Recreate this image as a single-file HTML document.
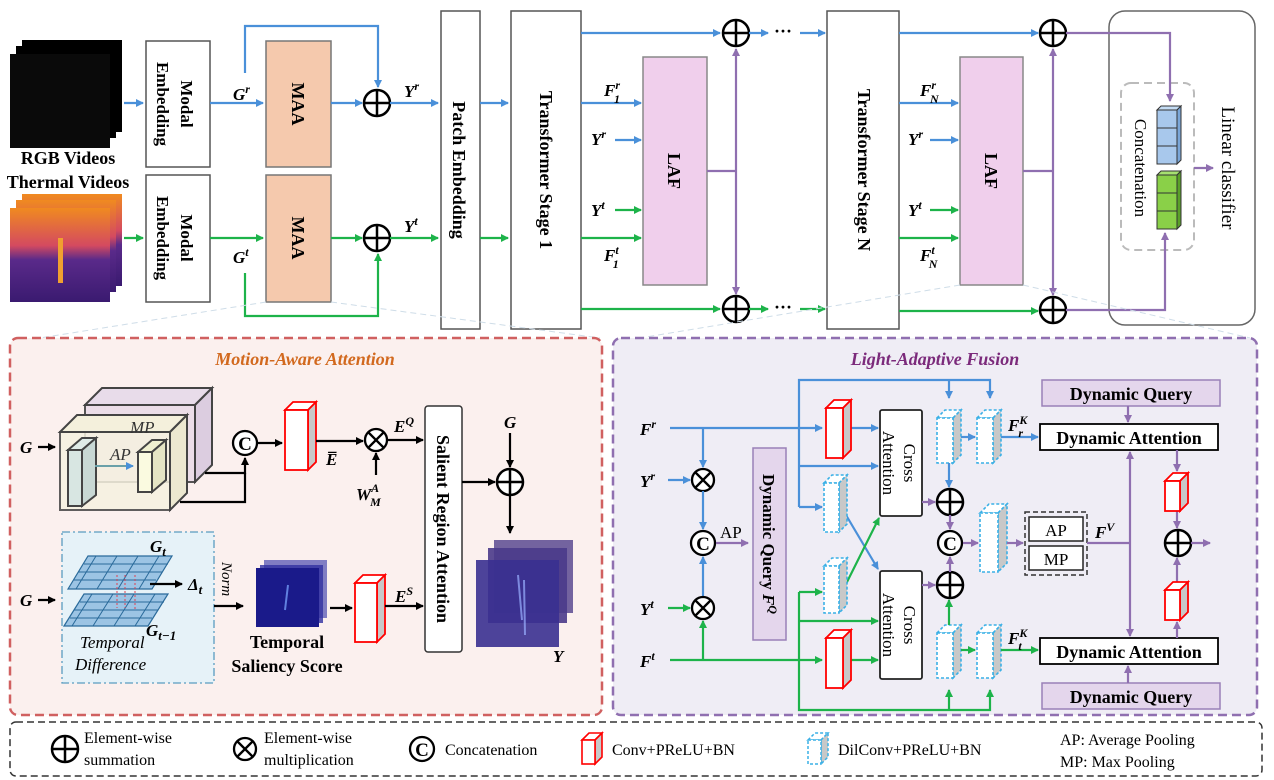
<!DOCTYPE html>
<html><head><meta charset="utf-8">
<style>
html,body{margin:0;padding:0;background:#fff}
svg{display:block;font-family:"Liberation Serif",serif}
.b{fill:none;stroke:#4a90d9;stroke-width:2.2}
.g{fill:none;stroke:#1db34a;stroke-width:2.2}
.p{fill:none;stroke:#8f6fb0;stroke-width:2.2}
.k{fill:none;stroke:#000;stroke-width:2.2}
.lab{font-style:italic;font-weight:bold;font-size:17px}
.bx{fill:#fff;stroke:#555;stroke-width:1.5}
</style></head><body>
<svg width="1274" height="780" viewBox="0 0 1274 780" xmlns="http://www.w3.org/2000/svg">
<defs>
<marker id="ab" markerWidth="8" markerHeight="8" refX="7" refY="4" orient="auto" markerUnits="userSpaceOnUse"><path d="M0,0 L8,4 L0,8z" fill="#4a90d9"/></marker>
<marker id="ag" markerWidth="8" markerHeight="8" refX="7" refY="4" orient="auto" markerUnits="userSpaceOnUse"><path d="M0,0 L8,4 L0,8z" fill="#1db34a"/></marker>
<marker id="ap" markerWidth="8" markerHeight="8" refX="7" refY="4" orient="auto" markerUnits="userSpaceOnUse"><path d="M0,0 L8,4 L0,8z" fill="#8f6fb0"/></marker>
<marker id="ak" markerWidth="8" markerHeight="8" refX="7" refY="4" orient="auto" markerUnits="userSpaceOnUse"><path d="M0,0 L8,4 L0,8z" fill="#000"/></marker>
<linearGradient id="th" x1="0" y1="0" x2="0" y2="1"><stop offset="0" stop-color="#f08a20"/><stop offset="0.4" stop-color="#d44a60"/><stop offset="0.55" stop-color="#5a2a8a"/><stop offset="1" stop-color="#3a1a70"/></linearGradient>
<g id="plus"><circle r="13" fill="#fff" stroke="#000" stroke-width="2.5"/><path d="M-13,0H13M0,-13V13" stroke="#000" stroke-width="2.5"/></g>
<g id="mul"><circle r="11" fill="#fff" stroke="#000" stroke-width="2.3"/><path d="M-7.5,-7.5L7.5,7.5M7.5,-7.5L-7.5,7.5" stroke="#000" stroke-width="2.3"/></g>
<g id="cat"><circle r="12" fill="#fff" stroke="#000" stroke-width="2.3"/><text y="7" text-anchor="middle" font-size="19" font-weight="bold">C</text></g>
</defs>

<g>
<rect x="22" y="40" width="100" height="92" fill="#000"/><rect x="16" y="46" width="100" height="92" fill="#000"/><rect x="10" y="54" width="100" height="94" fill="#0a0a0a"/>
<rect x="22" y="194" width="100" height="92" fill="url(#th)"/><rect x="16" y="200" width="100" height="92" fill="url(#th)"/><rect x="10" y="208" width="100" height="94" fill="url(#th)"/>
<rect x="58" y="238" width="5" height="45" fill="#f0a030"/>
<text x="68" y="164" text-anchor="middle" font-size="18" font-weight="bold">RGB Videos</text>
<text x="68" y="188" text-anchor="middle" font-size="18" font-weight="bold">Thermal Videos</text>
<path class="b" d="M124,103H143" marker-end="url(#ab)"/>
<path class="g" d="M124,238H143" marker-end="url(#ag)"/>
<rect class="bx" x="146" y="41" width="64" height="126"/>
<rect class="bx" x="146" y="175" width="64" height="127"/>
<text transform="translate(178,104) rotate(90)" text-anchor="middle" font-size="17" font-weight="bold"><tspan x="0" dy="-3">Modal</tspan><tspan x="0" dy="24">Embedding</tspan></text>
<text transform="translate(178,238) rotate(90)" text-anchor="middle" font-size="17" font-weight="bold"><tspan x="0" dy="-3">Modal</tspan><tspan x="0" dy="24">Embedding</tspan></text>
<text class="lab" x="233" y="100">G<tspan dy="-7" font-size="12">r</tspan></text>
<text class="lab" x="233" y="263">G<tspan dy="-7" font-size="12">t</tspan></text>
<path class="b" d="M210,103H263" marker-end="url(#ab)"/>
<path class="g" d="M210,238H263" marker-end="url(#ag)"/>
<path class="b" d="M245,73V26H378V87" marker-end="url(#ab)"/>
<path class="g" d="M245,273V316H378V254" marker-end="url(#ag)"/>
<rect x="266" y="41" width="65" height="126" fill="#f5c9ad" stroke="#777" stroke-width="1.5"/>
<rect x="266" y="175" width="65" height="127" fill="#f5c9ad" stroke="#777" stroke-width="1.5"/>
<text transform="translate(292,104) rotate(90)" text-anchor="middle" font-size="18" font-weight="bold">MAA</text>
<text transform="translate(292,238) rotate(90)" text-anchor="middle" font-size="18" font-weight="bold">MAA</text>
<path class="b" d="M331,103H362" marker-end="url(#ab)"/>
<path class="g" d="M331,238H362" marker-end="url(#ag)"/>
<use href="#plus" x="377" y="103"/><use href="#plus" x="377" y="238"/>
<text class="lab" x="404" y="97">Y<tspan dy="-7" font-size="12">r</tspan></text>
<text class="lab" x="404" y="232">Y<tspan dy="-7" font-size="12">t</tspan></text>
<path class="b" d="M390,103H438" marker-end="url(#ab)"/>
<path class="g" d="M390,238H438" marker-end="url(#ag)"/>
<rect class="bx" x="441" y="11" width="39" height="318"/>
<text transform="translate(453,170) rotate(90)" text-anchor="middle" font-size="18" font-weight="bold">Patch Embedding</text>
<path class="b" d="M480,103H508" marker-end="url(#ab)"/>
<path class="g" d="M480,238H508" marker-end="url(#ag)"/>
<rect class="bx" x="511" y="11" width="70" height="318"/>
<text transform="translate(540,170) rotate(90)" text-anchor="middle" font-size="18" font-weight="bold">Transformer Stage 1</text>
<path class="b" d="M581,33H720" marker-end="url(#ab)"/>
<path class="g" d="M581,309H720" marker-end="url(#ag)"/>
<path class="b" d="M581,103H641" marker-end="url(#ab)"/>
<path class="b" d="M615,140H641" marker-end="url(#ab)"/>
<path class="g" d="M615,210H641" marker-end="url(#ag)"/>
<path class="g" d="M581,238H641" marker-end="url(#ag)"/>
<text class="lab" x="604" y="96">F<tspan dy="-7" font-size="12">r</tspan><tspan dx="-6" dy="14" font-size="12">1</tspan></text>
<text class="lab" x="591" y="145">Y<tspan dy="-7" font-size="12">r</tspan></text>
<text class="lab" x="591" y="216">Y<tspan dy="-7" font-size="12">t</tspan></text>
<text class="lab" x="604" y="261">F<tspan dy="-7" font-size="12">t</tspan><tspan dx="-6" dy="14" font-size="12">1</tspan></text>
<rect x="643" y="57" width="64" height="228" fill="#f0cfec" stroke="#888" stroke-width="1.5"/>
<text transform="translate(668,171) rotate(90)" text-anchor="middle" font-size="18" font-weight="bold">LAF</text>
<path class="p" d="M707,171H736"/>
<path class="p" d="M736,171V49" marker-end="url(#ap)"/>
<path class="p" d="M736,171V294" marker-end="url(#ap)"/>
<use href="#plus" x="736" y="33"/><use href="#plus" x="736" y="309"/>
<path class="b" d="M749,33H768" marker-end="url(#ab)"/>
<path class="g" d="M749,309H768" marker-end="url(#ag)"/>
<text x="783" y="37" font-size="18" font-weight="bold" text-anchor="middle">···</text>
<text x="783" y="313" font-size="18" font-weight="bold" text-anchor="middle">···</text>
<path class="b" d="M800,33H825" marker-end="url(#ab)"/>
<path class="g" d="M800,309H825" marker-end="url(#ag)"/>
<rect class="bx" x="827" y="11" width="72" height="318"/>
<text transform="translate(858,170) rotate(90)" text-anchor="middle" font-size="18" font-weight="bold">Transformer Stage N</text>
<path class="b" d="M899,33H1038" marker-end="url(#ab)"/>
<path class="g" d="M899,311H1038" marker-end="url(#ag)"/>
<path class="b" d="M899,103H958" marker-end="url(#ab)"/>
<path class="b" d="M930,140H958" marker-end="url(#ab)"/>
<path class="g" d="M930,210H958" marker-end="url(#ag)"/>
<path class="g" d="M899,238H958" marker-end="url(#ag)"/>
<text class="lab" x="920" y="96">F<tspan dy="-7" font-size="12">r</tspan><tspan dx="-6" dy="14" font-size="12">N</tspan></text>
<text class="lab" x="908" y="145">Y<tspan dy="-7" font-size="12">r</tspan></text>
<text class="lab" x="908" y="216">Y<tspan dy="-7" font-size="12">t</tspan></text>
<text class="lab" x="920" y="261">F<tspan dy="-7" font-size="12">t</tspan><tspan dx="-6" dy="14" font-size="12">N</tspan></text>
<rect x="960" y="57" width="63" height="228" fill="#f0cfec" stroke="#888" stroke-width="1.5"/>
<text transform="translate(985,171) rotate(90)" text-anchor="middle" font-size="18" font-weight="bold">LAF</text>
<path class="p" d="M1023,171H1053"/>
<path class="p" d="M1053,171V49" marker-end="url(#ap)"/>
<path class="p" d="M1053,171V295" marker-end="url(#ap)"/>
<rect x="1109" y="11" width="146" height="314" rx="16" fill="#fff" stroke="#666" stroke-width="1.5"/>
<use href="#plus" x="1053" y="33"/><use href="#plus" x="1053" y="310"/>
<rect x="1121" y="83" width="73" height="167" rx="10" fill="none" stroke="#bbb" stroke-width="2" stroke-dasharray="8,5"/>
<path class="p" d="M1066,33H1170V101" marker-end="url(#ap)"/>
<path class="p" d="M1066,310H1165V233" marker-end="url(#ap)"/>
<g stroke="#333" stroke-width="1">
<rect x="1157" y="110" width="20" height="18" fill="#a8c8ec"/><rect x="1157" y="128" width="20" height="18" fill="#a8c8ec"/><rect x="1157" y="146" width="20" height="18" fill="#a8c8ec"/>
<polygon points="1157,110 1161,106 1181,106 1177,110" fill="#c4dcf4"/><polygon points="1177,110 1181,106 1181,160 1177,164" fill="#7aa6d8"/>
<rect x="1157" y="175" width="20" height="18" fill="#8ad048"/><rect x="1157" y="193" width="20" height="18" fill="#8ad048"/><rect x="1157" y="211" width="20" height="18" fill="#8ad048"/>
<polygon points="1157,175 1161,171 1181,171 1177,175" fill="#a6e070"/><polygon points="1177,175 1181,171 1181,225 1177,229" fill="#5aa028"/>
</g>
<text transform="translate(1135,168) rotate(90)" text-anchor="middle" font-size="17">Concatenation</text>
<path class="p" d="M1194,168H1213" marker-end="url(#ap)"/>
<text transform="translate(1222,168) rotate(90)" text-anchor="middle" font-size="19">Linear classifier</text>
<path d="M266,302L40,338M331,302L600,338" stroke="#cfdde8" stroke-width="1" stroke-dasharray="6,4" fill="none"/>
<path d="M960,285L640,338M1023,285L1250,338" stroke="#cfdde8" stroke-width="1" stroke-dasharray="6,4" fill="none"/>
</g>

<rect x="10" y="338" width="592" height="377" rx="8" fill="#fbf0ee" stroke="#d06060" stroke-width="2.5" stroke-dasharray="9,5"/>
<text x="305" y="365" text-anchor="middle" font-size="18" font-style="italic" font-weight="bold" fill="#d2691e">Motion-Aware Attention</text>
<text class="lab" x="20" y="453">G</text><path class="k" d="M38,447H55" marker-end="url(#ak)"/>
<g stroke="#444" stroke-width="2">
<polygon points="85,405 102,388 212,388 195,405" fill="#e8dcea"/>
<rect x="85" y="405" width="110" height="77" fill="#eadce8" opacity="0.9"/>
<polygon points="195,405 212,388 212,465 195,482" fill="#dccde0"/>
<polygon points="60,432 77,415 187,415 170,432" fill="#f4f0dc"/>
<rect x="60" y="432" width="110" height="78" fill="#f6f2e0" opacity="0.85"/>
<polygon points="170,432 187,415 187,493 170,510" fill="#ece8d0"/>
<rect x="68" y="450" width="14" height="56" fill="#d8e6e2"/><polygon points="68,450 82,438 96,438 82,450" fill="#e0ece8"/><polygon points="82,450 96,438 96,495 82,506" fill="#c8d8d4"/>
<rect x="138" y="452" width="14" height="40" fill="#fafae0"/><polygon points="138,452 152,440 166,440 152,452" fill="#f0f0d0"/><polygon points="152,452 166,440 166,480 152,492" fill="#e4e4c4"/>
</g>
<text x="130" y="433" font-size="17" font-style="italic" fill="#333">MP</text>
<text x="110" y="460" font-size="17" font-style="italic" fill="#333">AP</text>
<path d="M95,466H133" stroke="#6aa0a8" stroke-width="2" marker-end="url(#ab)"/>
<path class="k" d="M205,473H245V458" marker-end="url(#ak)"/>
<path class="k" d="M180,502H245V473"/>
<use href="#cat" x="245" y="443"/>
<path class="k" d="M258,443H282" marker-end="url(#ak)"/>
<g><polygon points="285,410 293,402 316,402 308,410" fill="#fff" stroke="red" stroke-width="1.8"/><polygon points="308,410 316,402 316,462 308,470" fill="#c8c8c8" stroke="red" stroke-width="1.8"/><rect x="285" y="410" width="23" height="60" fill="#fff" stroke="red" stroke-width="1.8"/></g>
<path class="k" d="M316,441H363" marker-end="url(#ak)"/>
<text class="lab" x="326" y="465" font-style="italic" font-weight="normal">E̅</text>
<use href="#mul" x="376" y="440"/>
<path class="k" d="M376,475V453" marker-end="url(#ak)"/>
<text class="lab" x="356" y="500">W<tspan dy="-8" font-size="12">A</tspan><tspan dx="-9" dy="14" font-size="12">M</tspan></text>
<text class="lab" x="394" y="432">E<tspan dy="-7" font-size="12">Q</tspan></text>
<path class="k" d="M388,440H423" marker-end="url(#ak)"/>
<rect x="425" y="406" width="37" height="246" rx="3" fill="#fff" stroke="#333" stroke-width="1.5"/>
<text transform="translate(437,529) rotate(90)" text-anchor="middle" font-size="18" font-weight="bold">Salient Region Attention</text>
<text class="lab" x="504" y="428">G</text>
<path class="k" d="M510,433V467" marker-end="url(#ak)"/>
<path class="k" d="M462,482H495" marker-end="url(#ak)"/>
<use href="#plus" x="510" y="482"/>
<path class="k" d="M510,495V533" marker-end="url(#ak)"/>
<rect x="494" y="540" width="79" height="73" fill="#5a4a90" opacity="0.85"/>
<rect x="488" y="548" width="79" height="75" fill="#4a3a8a" opacity="0.9"/>
<rect x="476" y="560" width="83" height="87" fill="#3a3090" opacity="0.9"/>
<path d="M518,575 L522,620 M524,580 L525,635" stroke="#9ab0ff" stroke-width="2" opacity="0.7"/>
<text class="lab" x="553" y="662">Y</text>
<rect x="62" y="532" width="152" height="151" fill="#e6f2f8" stroke="#5a9cc0" stroke-width="1.3" stroke-dasharray="8,3,2,3"/>
<text class="lab" x="20" y="606">G</text><path class="k" d="M38,600H55" marker-end="url(#ak)"/>
<g fill="#9cc4e4" stroke="#2a6a9a" stroke-width="1.2">
<polygon points="68,589 88,556 172,556 152,589"/>
<polygon points="64,626 84,594 168,594 148,626"/>
</g>
<path d="M84,564H168M78,572H162M74,580H156M96,556L76,589M117,556L97,589M138,556L118,589M159,556L139,589M80,602H164M74,610H158M70,618H152M92,594L72,626M113,594L93,626M134,594L114,626M155,594L135,626" stroke="#2a6a9a" stroke-width="1"/>
<path d="M117,575V608M125,575V608M135,575V610" stroke="#e04050" stroke-width="1" stroke-dasharray="2,2"/>
<text class="lab" x="150" y="552">G<tspan dy="4" font-size="13">t</tspan></text>
<text class="lab" x="146" y="636">G<tspan dy="4" font-size="13">t−1</tspan></text>
<path class="k" d="M150,584H182" marker-end="url(#ak)"/>
<text class="lab" x="188" y="590" font-style="normal">Δ<tspan dy="4" font-size="13" font-style="italic">t</tspan></text>
<text x="80" y="648" font-size="17" font-style="italic">Temporal</text>
<text x="75" y="670" font-size="17" font-style="italic">Difference</text>
<text transform="translate(222,562) rotate(90)" font-size="15" font-style="italic">Norm</text>
<path class="k" d="M214,606H243" marker-end="url(#ak)"/>
<rect x="264" y="560" width="63" height="58" fill="#4c4cb0" opacity="0.7"/>
<rect x="260" y="565" width="63" height="58" fill="#3030a0" opacity="0.8"/>
<rect x="256" y="568" width="63" height="59" fill="#1a1a8a"/>
<path d="M288,585 L285,610" stroke="#6080e0" stroke-width="2"/>
<text x="287" y="648" text-anchor="middle" font-size="18" font-weight="bold">Temporal</text>
<text x="287" y="672" text-anchor="middle" font-size="18" font-weight="bold">Saliency Score</text>
<path class="k" d="M330,608H352" marker-end="url(#ak)"/>
<g><polygon points="355,583 363,575 385,575 377,583" fill="#fff" stroke="red" stroke-width="1.8"/><polygon points="377,583 385,575 385,634 377,642" fill="#c8c8c8" stroke="red" stroke-width="1.8"/><rect x="355" y="583" width="22" height="59" fill="#fff" stroke="red" stroke-width="1.8"/></g>
<text class="lab" x="395" y="602">E<tspan dy="-7" font-size="12">S</tspan></text>
<path class="k" d="M385,606H423" marker-end="url(#ak)"/>

<rect x="613" y="338" width="644" height="377" rx="8" fill="#efedf5" stroke="#8f6fb0" stroke-width="2.5" stroke-dasharray="9,5"/>
<text x="935" y="365" text-anchor="middle" font-size="18" font-style="italic" font-weight="bold" fill="#7b2a7b">Light-Adaptive Fusion</text>
<text class="lab" x="640" y="435">F<tspan dy="-7" font-size="12">r</tspan></text>
<text class="lab" x="640" y="487">Y<tspan dy="-7" font-size="12">r</tspan></text>
<text class="lab" x="640" y="615">Y<tspan dy="-7" font-size="12">t</tspan></text>
<text class="lab" x="640" y="667">F<tspan dy="-7" font-size="12">t</tspan></text>
<path class="b" d="M670,428H822" marker-end="url(#ab)"/>
<path class="b" d="M703,428V467" marker-end="url(#ab)"/>
<path class="b" d="M668,480H690" marker-end="url(#ab)"/>
<use href="#mul" x="703" y="480"/>
<path class="b" d="M703,491V529" marker-end="url(#ab)"/>
<use href="#cat" x="703" y="543"/>
<path class="b" d="M703,597V557" marker-end="url(#ab)"/>
<path class="g" d="M668,608H690" marker-end="url(#ag)"/>
<use href="#mul" x="703" y="608"/>
<path class="g" d="M703,660V621" marker-end="url(#ag)"/>
<path class="g" d="M670,660H822" marker-end="url(#ag)"/>
<text x="720" y="538" font-size="17">AP</text>
<path class="p" d="M716,543H748" marker-end="url(#ap)"/>
<rect x="753" y="448" width="33" height="192" fill="#e4d6ec" stroke="#9a80b8" stroke-width="1.5"/>
<text transform="translate(763,544) rotate(90)" text-anchor="middle" font-size="17" font-weight="bold">Dynamic Query <tspan font-style="italic">F<tspan dy="-6" font-size="12">Q</tspan></tspan></text>
<path class="b" d="M799,507V380H990V398" marker-end="url(#ab)"/>
<path class="b" d="M949,380V398" marker-end="url(#ab)"/>
<path class="b" d="M799,466H878" marker-end="url(#ab)"/>
<path class="b" d="M799,507H822" marker-end="url(#ab)"/>
<path class="b" d="M851,428H878" marker-end="url(#ab)"/>
<path class="b" d="M843,510L878,569" marker-end="url(#ab)"/>
<path class="g" d="M799,592V710H990V690" marker-end="url(#ag)"/>
<path class="g" d="M949,710V690" marker-end="url(#ag)"/>
<path class="g" d="M799,592H822" marker-end="url(#ag)"/>
<path class="g" d="M799,621H878" marker-end="url(#ag)"/>
<path class="g" d="M851,660H878" marker-end="url(#ag)"/>
<path class="g" d="M843,590L879,518" marker-end="url(#ag)"/>
<g><polygon points="826,408 834,400 851,400 843,408" fill="#fff" stroke="red" stroke-width="1.8"/><polygon points="843,408 851,400 851,450 843,458" fill="#c8c8c8" stroke="red" stroke-width="1.8"/><rect x="826" y="408" width="17" height="50" fill="#fff" stroke="red" stroke-width="1.8"/></g>
<g><polygon points="826,638 834,630 851,630 843,638" fill="#fff" stroke="red" stroke-width="1.8"/><polygon points="843,638 851,630 851,680 843,688" fill="#c8c8c8" stroke="red" stroke-width="1.8"/><rect x="826" y="638" width="17" height="50" fill="#fff" stroke="red" stroke-width="1.8"/></g>
<g fill="#fff" stroke="#3ab0e6" stroke-width="1.6" stroke-dasharray="3,2">
<polygon points="824,483 832,475 847,475 839,483"/><polygon points="839,483 847,475 847,524 839,532" fill="#c8c8c8"/><rect x="824" y="483" width="15" height="49"/>
<polygon points="824,566 832,558 847,558 839,566"/><polygon points="839,566 847,558 847,605 839,613" fill="#c8c8c8"/><rect x="824" y="566" width="15" height="47"/>
<polygon points="937,418 945,410 961,410 953,418"/><polygon points="953,418 961,410 961,455 953,463" fill="#c8c8c8"/><rect x="937" y="418" width="16" height="45"/>
<polygon points="977,418 985,410 1001,410 993,418"/><polygon points="993,418 1001,410 1001,455 993,463" fill="#c8c8c8"/><rect x="977" y="418" width="16" height="45"/>
<polygon points="937,633 945,625 961,625 953,633"/><polygon points="953,633 961,625 961,670 953,678" fill="#c8c8c8"/><rect x="937" y="633" width="16" height="45"/>
<polygon points="977,633 985,625 1001,625 993,633"/><polygon points="993,633 1001,625 1001,670 993,678" fill="#c8c8c8"/><rect x="977" y="633" width="16" height="45"/>
<polygon points="980,513 989,504 1007,504 998,513"/><polygon points="998,513 1007,504 1007,563 998,572" fill="#c8c8c8"/><rect x="980" y="513" width="18" height="59"/>
</g>
<rect x="880" y="410" width="42" height="106" rx="2" fill="#fff" stroke="#222" stroke-width="1.8"/>
<rect x="880" y="571" width="42" height="108" rx="2" fill="#fff" stroke="#222" stroke-width="1.8"/>
<text transform="translate(901,463) rotate(90)" text-anchor="middle" font-size="17"><tspan x="0" dy="-3">Cross</tspan><tspan x="0" dy="21">Attention</tspan></text>
<text transform="translate(901,625) rotate(90)" text-anchor="middle" font-size="17"><tspan x="0" dy="-3">Cross</tspan><tspan x="0" dy="21">Attention</tspan></text>
<path class="b" d="M961,437H975" marker-end="url(#ab)"/>
<path class="b" d="M949,463V487" marker-end="url(#ab)"/>
<path class="b" d="M1001,437H1038" marker-end="url(#ab)"/>
<text class="lab" x="1008" y="431">F<tspan dy="-7" font-size="12">K</tspan><tspan dx="-9" dy="13" font-size="12">r</tspan></text>
<path class="g" d="M961,650H975" marker-end="url(#ag)"/>
<path class="g" d="M949,625V600" marker-end="url(#ag)"/>
<path class="g" d="M1001,650H1038" marker-end="url(#ag)"/>
<text class="lab" x="1008" y="644">F<tspan dy="-7" font-size="12">K</tspan><tspan dx="-9" dy="13" font-size="12">t</tspan></text>
<path class="p" d="M922,502H935" marker-end="url(#ap)"/>
<path class="p" d="M922,585H935" marker-end="url(#ap)"/>
<use href="#plus" x="950" y="502"/><use href="#plus" x="950" y="585"/>
<path class="p" d="M950,515V529" marker-end="url(#ap)"/>
<path class="p" d="M950,572V557" marker-end="url(#ap)"/>
<use href="#cat" x="950" y="543"/>
<path class="p" d="M963,543H978" marker-end="url(#ap)"/>
<path class="p" d="M1007,543H1023" marker-end="url(#ap)"/>
<rect x="1025" y="512" width="62" height="63" fill="none" stroke="#333" stroke-width="1.5" stroke-dasharray="5,3"/>
<rect x="1029" y="517" width="54" height="24" fill="#fff" stroke="#222" stroke-width="1.5"/>
<rect x="1029" y="546" width="54" height="24" fill="#fff" stroke="#222" stroke-width="1.5"/>
<text x="1056" y="536" text-anchor="middle" font-size="17">AP</text>
<text x="1056" y="565" text-anchor="middle" font-size="17">MP</text>
<text class="lab" x="1095" y="538">F<tspan dy="-7" font-size="12">V</tspan></text>
<path class="p" d="M1087,543H1130"/>
<path class="p" d="M1130,543V452" marker-end="url(#ap)"/>
<path class="p" d="M1130,543V636" marker-end="url(#ap)"/>
<rect x="1042" y="380" width="178" height="26" fill="#e4d6ec" stroke="#9a80b8" stroke-width="1.5"/>
<text x="1131" y="400" text-anchor="middle" font-size="18" font-weight="bold">Dynamic Query</text>
<rect x="1042" y="683" width="178" height="26" fill="#e4d6ec" stroke="#9a80b8" stroke-width="1.5"/>
<text x="1131" y="703" text-anchor="middle" font-size="18" font-weight="bold">Dynamic Query</text>
<path class="p" d="M1128,406V422" marker-end="url(#ap)"/>
<path class="p" d="M1128,683V666" marker-end="url(#ap)"/>
<rect x="1040" y="424" width="178" height="26" fill="#fff" stroke="#000" stroke-width="1.8"/>
<text x="1129" y="444" text-anchor="middle" font-size="18" font-weight="bold">Dynamic Attention</text>
<rect x="1040" y="638" width="178" height="26" fill="#fff" stroke="#000" stroke-width="1.8"/>
<text x="1129" y="658" text-anchor="middle" font-size="18" font-weight="bold">Dynamic Attention</text>
<path class="p" d="M1177,450V471" marker-end="url(#ap)"/>
<path class="p" d="M1177,511V528" marker-end="url(#ap)"/>
<path class="p" d="M1177,638V622" marker-end="url(#ap)"/>
<path class="p" d="M1177,582V558" marker-end="url(#ap)"/>
<g><polygon points="1165,481 1173,473 1188,473 1180,481" fill="#fff" stroke="red" stroke-width="1.8"/><polygon points="1180,481 1188,473 1188,503 1180,511" fill="#c8c8c8" stroke="red" stroke-width="1.8"/><rect x="1165" y="481" width="15" height="30" fill="#fff" stroke="red" stroke-width="1.8"/></g>
<g><polygon points="1165,590 1173,582 1188,582 1180,590" fill="#fff" stroke="red" stroke-width="1.8"/><polygon points="1180,590 1188,582 1188,612 1180,620" fill="#c8c8c8" stroke="red" stroke-width="1.8"/><rect x="1165" y="590" width="15" height="30" fill="#fff" stroke="red" stroke-width="1.8"/></g>
<use href="#plus" x="1178" y="543"/>
<path class="p" d="M1191,543H1210" marker-end="url(#ap)"/>

<rect x="10" y="722" width="1252" height="54" rx="6" fill="#fff" stroke="#333" stroke-width="1.5" stroke-dasharray="7,4"/>
<use href="#plus" x="65" y="749"/>
<text x="84" y="743" font-size="16">Element-wise</text><text x="84" y="765" font-size="16">summation</text>
<use href="#mul" x="245" y="749"/>
<text x="264" y="743" font-size="16">Element-wise</text><text x="264" y="765" font-size="16">multiplication</text>
<use href="#cat" x="422" y="749"/>
<text x="445" y="755" font-size="16">Concatenation</text>
<g><polygon points="582,740 589,733 602,733 595,740" fill="#fff" stroke="red" stroke-width="1.6"/><polygon points="595,740 602,733 602,757 595,764" fill="#c8c8c8" stroke="red" stroke-width="1.6"/><rect x="582" y="740" width="13" height="24" fill="#fff" stroke="red" stroke-width="1.6"/></g>
<text x="612" y="755" font-size="16">Conv+PReLU+BN</text>
<g fill="#fff" stroke="#3ab0e6" stroke-width="1.5" stroke-dasharray="3,2"><polygon points="808,740 815,733 828,733 821,740"/><polygon points="821,740 828,733 828,757 821,764" fill="#c8c8c8"/><rect x="808" y="740" width="13" height="24"/></g>
<text x="838" y="755" font-size="16">DilConv+PReLU+BN</text>
<text x="1060" y="745" font-size="16">AP: Average Pooling</text>
<text x="1060" y="767" font-size="16">MP: Max Pooling</text>
</svg>
</body></html>
